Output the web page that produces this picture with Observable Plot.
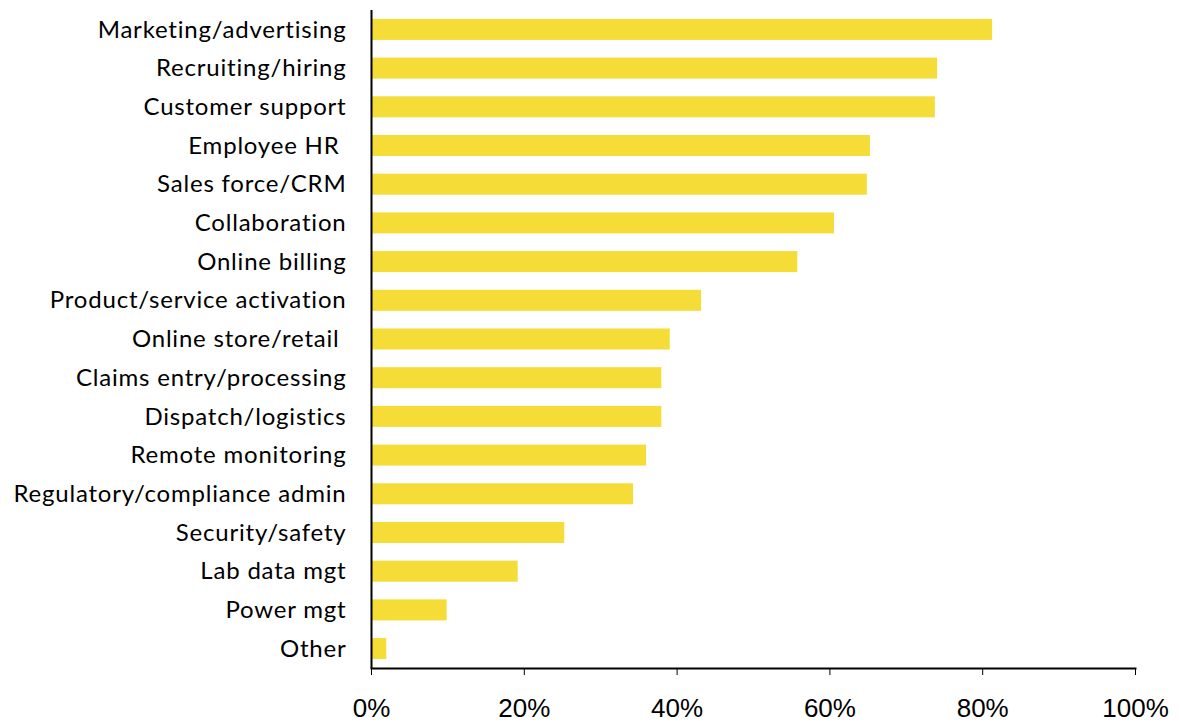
<!DOCTYPE html>
<html>
<head>
<meta charset="utf-8">
<script src="https://cdn.jsdelivr.net/npm/d3@7"></script>
<script src="https://cdn.jsdelivr.net/npm/@observablehq/plot@0.6"></script>
<style>
  html, body { margin: 0; padding: 0; background: #fff; }
  #chart { width: 1181px; height: 723px; }
  #chart svg g[aria-label="y-axis tick label"] text { font-variant-ligatures: none; letter-spacing: 0.8px; }
</style>
</head>
<body>
<div id="chart"></div>
<script>
const categories = [
  "Marketing/advertising",
  "Recruiting/hiring",
  "Customer support",
  "Employee HR\u00a0",
  "Sales force/CRM",
  "Collaboration",
  "Online billing",
  "Product/service activation",
  "Online store/retail\u00a0",
  "Claims entry/processing",
  "Dispatch/logistics",
  "Remote monitoring",
  "Regulatory/compliance admin",
  "Security/safety",
  "Lab data mgt",
  "Power mgt",
  "Other"
];
const shares = [0.813, 0.741, 0.738, 0.653, 0.649, 0.606, 0.558, 0.432, 0.391, 0.380, 0.380, 0.360, 0.343, 0.253, 0.192, 0.099, 0.020];
const xTicks = [0, 0.2, 0.4, 0.6, 0.8, 1.0];

const data = categories.map((c, i) => ({category: c, value: shares[i]}));

const chart = Plot.plot({
  width: 1181,
  height: 723,
  marginTop: 10,
  marginBottom: 55,
  marginLeft: 371,
  marginRight: 46,
  style: {background: "#fff", color: "#000"},
  x: {domain: [0, 1]},
  y: {domain: categories, paddingInner: 0.457, paddingOuter: 0.23, round: false},
  marks: [
    Plot.barX(data, {x: "value", y: "category", fill: "#f6dc37"}),
    Plot.ruleX([0], {stroke: "#000", strokeWidth: 2}),
    Plot.frame({anchor: "bottom", stroke: "#000", strokeWidth: 2}),
    Plot.axisX({ticks: xTicks, tickFormat: d3.format(".0%"), tickSize: 7, tickPadding: 23, fontSize: 26, fontFamily: "Liberation Sans, Arial, sans-serif", stroke: "#000", label: null}),
    Plot.axisY({tickSize: 0, tickPadding: 25, fontSize: 24, fontFamily: "Lato, sans-serif", label: null})
  ]
});
document.getElementById("chart").appendChild(chart);
</script>
</body>
</html>
